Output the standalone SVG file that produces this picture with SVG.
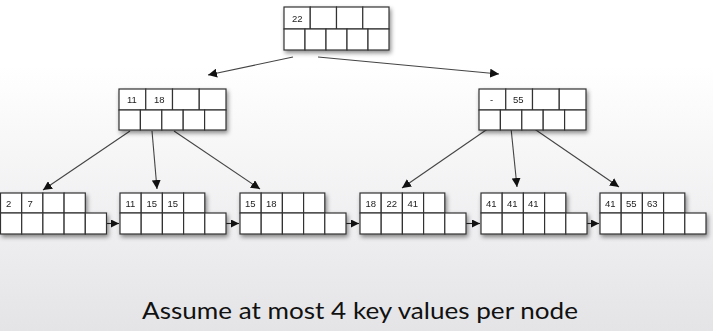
<svg xmlns="http://www.w3.org/2000/svg" width="713" height="331" viewBox="0 0 713 331">
<defs>
<linearGradient id="bg" x1="0" y1="0" x2="0" y2="1">
<stop offset="0" stop-color="#ffffff"/>
<stop offset="0.2" stop-color="#ffffff"/>
<stop offset="1" stop-color="#e4e4e7"/>
</linearGradient>
<filter id="sh" x="-10%" y="-20%" width="125%" height="150%">
<feDropShadow dx="1.5" dy="2.5" stdDeviation="2" flood-color="#000" flood-opacity="0.45"/>
</filter>
<marker id="ah" viewBox="0 0 10 10" refX="10" refY="5" markerWidth="9" markerHeight="9" markerUnits="userSpaceOnUse" orient="auto">
<path d="M0,0 L10,5 L0,10 z" fill="#111"/>
</marker>
<marker id="ahs" viewBox="0 0 10 10" refX="10" refY="5" markerWidth="8" markerHeight="8" markerUnits="userSpaceOnUse" orient="auto">
<path d="M0,0 L10,5 L0,10 z" fill="#111"/>
</marker>
</defs>
<style>
.c{fill:#fff;stroke:#333;stroke-width:1.2}
.t{font-family:"Liberation Sans",Arial,sans-serif;font-size:9.5px;fill:#222}
.e{stroke:#444;stroke-width:1.1;fill:none;marker-end:url(#ah)}
.l{stroke:#222;stroke-width:1.1;fill:none;marker-end:url(#ahs)}
.cap{font-family:Lato,"Open Sans",sans-serif;font-size:24px;fill:#111}
</style>
<rect x="0" y="0" width="713" height="331" fill="url(#bg)"/>

<g id="connectors">
<line class="e" x1="293" y1="57" x2="208" y2="75"/>
<line class="e" x1="318" y1="57" x2="499" y2="74"/>
<line class="e" x1="130" y1="131" x2="43" y2="190"/>
<line class="e" x1="152" y1="131" x2="157" y2="189"/>
<line class="e" x1="174" y1="131" x2="260" y2="189"/>
<line class="e" x1="489" y1="128" x2="402" y2="188"/>
<line class="e" x1="511" y1="128" x2="517" y2="187"/>
<line class="e" x1="533" y1="128" x2="619" y2="187"/>
<line class="l" x1="106" y1="223.5" x2="119" y2="223.5"/>
<line class="l" x1="226" y1="223.5" x2="239" y2="223.5"/>
<line class="l" x1="346" y1="223.5" x2="359" y2="223.5"/>
<line class="l" x1="466" y1="223.5" x2="480" y2="223.5"/>
<line class="l" x1="587" y1="223.5" x2="599" y2="223.5"/>
</g>

<g id="root" filter="url(#sh)">
<rect class="c" x="284" y="7" width="26.25" height="22"/>
<rect class="c" x="310.25" y="7" width="26.25" height="22"/>
<rect class="c" x="336.5" y="7" width="26.25" height="22"/>
<rect class="c" x="362.75" y="7" width="26.25" height="22"/>
<rect class="c" x="284" y="29" width="21" height="21"/>
<rect class="c" x="305" y="29" width="21" height="21"/>
<rect class="c" x="326" y="29" width="21" height="21"/>
<rect class="c" x="347" y="29" width="21" height="21"/>
<rect class="c" x="368" y="29" width="21" height="21"/>
<text class="t" x="292" y="21.5">22</text>
</g>

<g id="inner-left" filter="url(#sh)">
<rect class="c" x="119" y="89" width="26.75" height="21"/>
<rect class="c" x="145.75" y="89" width="26.75" height="21"/>
<rect class="c" x="172.5" y="89" width="26.75" height="21"/>
<rect class="c" x="199.25" y="89" width="26.75" height="21"/>
<rect class="c" x="119" y="110" width="21.4" height="20"/>
<rect class="c" x="140.4" y="110" width="21.4" height="20"/>
<rect class="c" x="161.8" y="110" width="21.4" height="20"/>
<rect class="c" x="183.2" y="110" width="21.4" height="20"/>
<rect class="c" x="204.6" y="110" width="21.4" height="20"/>
<text class="t" x="127" y="102.5">11</text>
<text class="t" x="154" y="102.5">18</text>
</g>

<g id="inner-right" filter="url(#sh)">
<rect class="c" x="479" y="89" width="26.75" height="21"/>
<rect class="c" x="505.75" y="89" width="26.75" height="21"/>
<rect class="c" x="532.5" y="89" width="26.75" height="21"/>
<rect class="c" x="559.25" y="89" width="26.75" height="21"/>
<rect class="c" x="479" y="110" width="21.4" height="20"/>
<rect class="c" x="500.4" y="110" width="21.4" height="20"/>
<rect class="c" x="521.8" y="110" width="21.4" height="20"/>
<rect class="c" x="543.2" y="110" width="21.4" height="20"/>
<rect class="c" x="564.6" y="110" width="21.4" height="20"/>
<text class="t" x="490" y="102.5">-</text>
<text class="t" x="513" y="102.5">55</text>
</g>

<g id="leaf1" filter="url(#sh)">
<rect class="c" x="0.5" y="193" width="21.2" height="20"/>
<rect class="c" x="21.7" y="193" width="21.2" height="20"/>
<rect class="c" x="42.9" y="193" width="21.2" height="20"/>
<rect class="c" x="64.1" y="193" width="21.2" height="20"/>
<rect class="c" x="0.5" y="213" width="21.2" height="21"/>
<rect class="c" x="21.7" y="213" width="21.2" height="21"/>
<rect class="c" x="42.9" y="213" width="21.2" height="21"/>
<rect class="c" x="64.1" y="213" width="21.2" height="21"/>
<rect class="c" x="85.3" y="213" width="21.2" height="21"/>
<text class="t" x="6" y="206.5">2</text>
<text class="t" x="27.5" y="206.5">7</text>
</g>

<g id="leaf2" filter="url(#sh)">
<rect class="c" x="120" y="193" width="21.2" height="20"/>
<rect class="c" x="141.2" y="193" width="21.2" height="20"/>
<rect class="c" x="162.4" y="193" width="21.2" height="20"/>
<rect class="c" x="183.6" y="193" width="21.2" height="20"/>
<rect class="c" x="120" y="213" width="21.2" height="21"/>
<rect class="c" x="141.2" y="213" width="21.2" height="21"/>
<rect class="c" x="162.4" y="213" width="21.2" height="21"/>
<rect class="c" x="183.6" y="213" width="21.2" height="21"/>
<rect class="c" x="204.8" y="213" width="21.2" height="21"/>
<text class="t" x="125.5" y="206.5">11</text>
<text class="t" x="146.5" y="206.5">15</text>
<text class="t" x="167.5" y="206.5">15</text>
</g>

<g id="leaf3" filter="url(#sh)">
<rect class="c" x="240" y="193" width="21.2" height="20"/>
<rect class="c" x="261.2" y="193" width="21.2" height="20"/>
<rect class="c" x="282.4" y="193" width="21.2" height="20"/>
<rect class="c" x="303.6" y="193" width="21.2" height="20"/>
<rect class="c" x="240" y="213" width="21.2" height="21"/>
<rect class="c" x="261.2" y="213" width="21.2" height="21"/>
<rect class="c" x="282.4" y="213" width="21.2" height="21"/>
<rect class="c" x="303.6" y="213" width="21.2" height="21"/>
<rect class="c" x="324.8" y="213" width="21.2" height="21"/>
<text class="t" x="245" y="206.5">15</text>
<text class="t" x="266" y="206.5">18</text>
</g>

<g id="leaf4" filter="url(#sh)">
<rect class="c" x="360" y="193" width="21.2" height="20"/>
<rect class="c" x="381.2" y="193" width="21.2" height="20"/>
<rect class="c" x="402.4" y="193" width="21.2" height="20"/>
<rect class="c" x="423.6" y="193" width="21.2" height="20"/>
<rect class="c" x="360" y="213" width="21.2" height="21"/>
<rect class="c" x="381.2" y="213" width="21.2" height="21"/>
<rect class="c" x="402.4" y="213" width="21.2" height="21"/>
<rect class="c" x="423.6" y="213" width="21.2" height="21"/>
<rect class="c" x="444.8" y="213" width="21.2" height="21"/>
<text class="t" x="365.5" y="206.5">18</text>
<text class="t" x="386.5" y="206.5">22</text>
<text class="t" x="407.5" y="206.5">41</text>
</g>

<g id="leaf5" filter="url(#sh)">
<rect class="c" x="481" y="193" width="21.2" height="20"/>
<rect class="c" x="502.2" y="193" width="21.2" height="20"/>
<rect class="c" x="523.4" y="193" width="21.2" height="20"/>
<rect class="c" x="544.6" y="193" width="21.2" height="20"/>
<rect class="c" x="481" y="213" width="21.2" height="21"/>
<rect class="c" x="502.2" y="213" width="21.2" height="21"/>
<rect class="c" x="523.4" y="213" width="21.2" height="21"/>
<rect class="c" x="544.6" y="213" width="21.2" height="21"/>
<rect class="c" x="565.8" y="213" width="21.2" height="21"/>
<text class="t" x="486" y="206.5">41</text>
<text class="t" x="507" y="206.5">41</text>
<text class="t" x="528" y="206.5">41</text>
</g>

<g id="leaf6" filter="url(#sh)">
<rect class="c" x="600" y="193" width="21.2" height="20"/>
<rect class="c" x="621.2" y="193" width="21.2" height="20"/>
<rect class="c" x="642.4" y="193" width="21.2" height="20"/>
<rect class="c" x="663.6" y="193" width="21.2" height="20"/>
<rect class="c" x="600" y="213" width="21.2" height="21"/>
<rect class="c" x="621.2" y="213" width="21.2" height="21"/>
<rect class="c" x="642.4" y="213" width="21.2" height="21"/>
<rect class="c" x="663.6" y="213" width="21.2" height="21"/>
<rect class="c" x="684.8" y="213" width="21.2" height="21"/>
<text class="t" x="605" y="206.5">41</text>
<text class="t" x="626" y="206.5">55</text>
<text class="t" x="647" y="206.5">63</text>
</g>

<text class="cap" x="142" y="319" textLength="436" lengthAdjust="spacingAndGlyphs">Assume at most 4 key values per node</text>
</svg>
